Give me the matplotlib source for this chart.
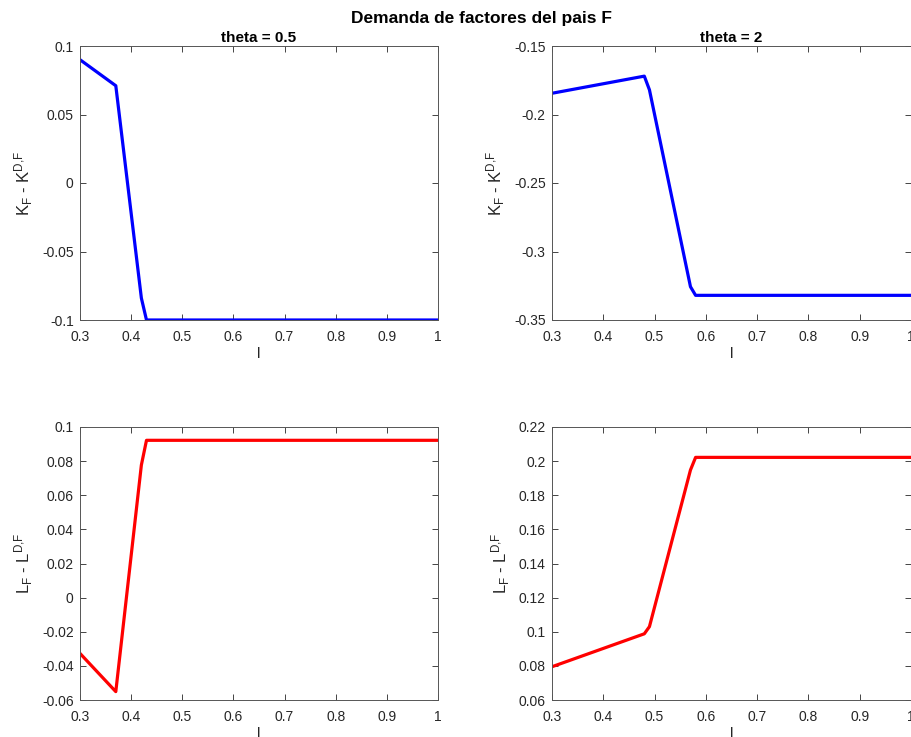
import matplotlib
matplotlib.use("Agg")
import matplotlib.pyplot as plt

plt.rcParams['font.family'] = ['Liberation Sans', 'DejaVu Sans']
plt.rcParams['mathtext.default'] = 'regular'

# Breakpoints
x_k05 = [0.30, 0.37, 0.42, 0.43, 1.00]
y_k05 = [0.090, 0.071, -0.084, -0.100, -0.100]

x_k2 = [0.30, 0.48, 0.49, 0.57, 0.58, 1.00]
y_k2 = [-0.1845, -0.172, -0.182, -0.3257, -0.332, -0.332]

x_l05 = [0.30, 0.37, 0.42, 0.43, 1.00]
y_l05 = [-0.0327, -0.0551, 0.0777, 0.0922, 0.0922]

x_l2 = [0.30, 0.48, 0.49, 0.57, 0.58, 1.00]
y_l2 = [0.0795, 0.0988, 0.103, 0.1948, 0.2022, 0.2022]

xticks = [0.3, 0.4, 0.5, 0.6, 0.7, 0.8, 0.9, 1.0]
xtick_labels = ['0.3', '0.4', '0.5', '0.6', '0.7', '0.8', '0.9', '1']

suptitle = 'Demanda de factores del pais F'
titles = ['theta = 0.5', 'theta = 2']
ylab_k = r'K$_F$ - K$^{D{,}F}$'
ylab_l = r'L$_F$ - L$^{D{,}F}$'

W, H = 912, 737
fig = plt.figure(figsize=(W / 100, H / 100), dpi=100)

def ax_at(x0, y0, x1, y1):
    return fig.add_axes([x0 / W, (H - y1) / H, (x1 - x0) / W, (y1 - y0) / H])

axes = {
    'k05': ax_at(80, 46, 438, 320),
    'k2': ax_at(552, 46, 911, 320),
    'l05': ax_at(80, 427, 438, 700),
    'l2': ax_at(552, 427, 911, 700),
}

specs = [
    ('k05', x_k05, y_k05, 'blue', (-0.1, 0.1), [-0.1, -0.05, 0, 0.05, 0.1],
     ['-0.1', '-0.05', '0', '0.05', '0.1'], ylab_k, titles[0]),
    ('k2', x_k2, y_k2, 'blue', (-0.35, -0.15), [-0.35, -0.3, -0.25, -0.2, -0.15],
     ['-0.35', '-0.3', '-0.25', '-0.2', '-0.15'], ylab_k, titles[1]),
    ('l05', x_l05, y_l05, 'red', (-0.06, 0.1),
     [-0.06, -0.04, -0.02, 0, 0.02, 0.04, 0.06, 0.08, 0.1],
     ['-0.06', '-0.04', '-0.02', '0', '0.02', '0.04', '0.06', '0.08', '0.1'], ylab_l, None),
    ('l2', x_l2, y_l2, 'red', (0.06, 0.22),
     [0.06, 0.08, 0.1, 0.12, 0.14, 0.16, 0.18, 0.2, 0.22],
     ['0.06', '0.08', '0.1', '0.12', '0.14', '0.16', '0.18', '0.2', '0.22'], ylab_l, None),
]

axc = '#262626'
for key, xs, ys, col, ylim, yt, ytl, ylab, ttl in specs:
    ax = axes[key]
    ax.plot(xs, ys, color=col, lw=2.3, solid_joinstyle='round')
    ax.set_xlim(0.3, 1.0)
    ax.set_ylim(*ylim)
    ax.set_xticks(xticks)
    ax.set_xticklabels(xtick_labels)
    ax.set_yticks(yt)
    ax.set_yticklabels(ytl)
    ax.tick_params(direction='in', top=True, right=True, length=4, width=0.6,
                   color=axc, labelcolor=axc, labelsize=10)
    ax.tick_params(axis='x', pad=7)
    ax.tick_params(axis='y', pad=4.5)
    for s in ax.spines.values():
        s.set_color('#555555')
        s.set_linewidth(0.7)
    ax.set_xlabel('l', fontsize=11, color=axc, labelpad=2)
    ax.set_ylabel(ylab, fontsize=12, color=axc, labelpad=5)
    if ttl:
        ax.set_title(ttl, fontsize=11, fontweight='bold', color='black', pad=3)

fig.text(482 / W, 1 - 18 / H, suptitle, ha='center', va='center',
         fontsize=12.5, fontweight='bold')

fig.savefig('out.png', dpi=100, facecolor='white')
